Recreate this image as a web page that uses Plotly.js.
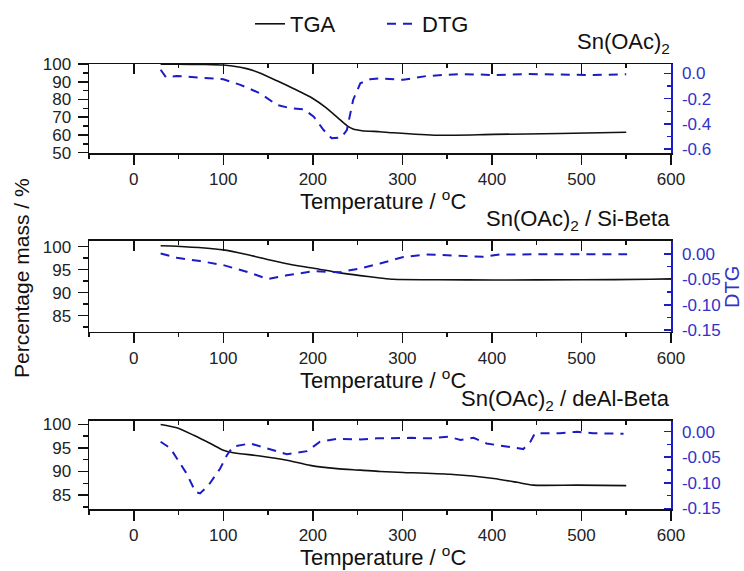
<!DOCTYPE html>
<html>
<head>
<meta charset="utf-8">
<script src="https://cdn.plot.ly/plotly-3.0.1.min.js"></script>
<style>html,body{margin:0;padding:0;background:#fff;}#chart{width:744px;height:571px;}</style>
</head>
<body>
<div id="chart"></div>
<script>
// ---- Data ----
const panelTitles = ['Sn(OAc)<sub>2</sub>', 'Sn(OAc)<sub>2</sub> / Si-Beta', 'Sn(OAc)<sub>2</sub> / deAl-Beta'];
const xTitle = 'Temperature / <sup>o</sup>C';

const p1TgaT = [30, 48, 80, 100, 110, 126, 140, 160, 180, 200, 215, 228, 238, 245, 255, 275, 290, 339, 402, 476, 550];
const p1Tga  = [100, 100, 99.8, 99.5, 99.0, 97.5, 95.2, 90.6, 85.8, 80.6, 75.3, 69.6, 65.3, 63.3, 62.4, 61.8, 61.2, 59.8, 60.3, 60.8, 61.5];
const p1DtgT = [30, 36, 48, 85, 100, 119, 141, 160, 175, 190, 201, 212, 221, 232, 238, 245, 253, 264, 275, 301, 327, 365, 402, 439, 476, 513, 550];
const p1Dtg  = [0.03, -0.03, -0.02, -0.038, -0.046, -0.09, -0.157, -0.25, -0.276, -0.285, -0.343, -0.449, -0.515, -0.507, -0.449, -0.21, -0.078, -0.046, -0.038, -0.05, -0.02, -0.004, -0.012, -0.004, -0.006, -0.012, -0.006];

const p2TgaT = [30, 48, 100, 126, 152, 178, 201, 227, 253, 275, 290, 340, 402, 500, 577, 600];
const p2Tga  = [100.2, 100.1, 99.3, 98.3, 97.1, 96.0, 95.3, 94.4, 93.7, 93.2, 92.9, 92.8, 92.75, 92.8, 92.9, 93.0];
const p2DtgT = [30, 48, 74, 100, 126, 150, 171, 201, 230, 253, 275, 301, 327, 365, 390, 409, 457, 495, 551];
const p2Dtg  = [0.001, -0.0075, -0.014, -0.022, -0.035, -0.0495, -0.042, -0.034, -0.036, -0.0285, -0.019, -0.006, -0.001, -0.0036, -0.0056, -0.001, -0.001, 0.0, -0.0005];

const p3TgaT = [30, 48, 67, 85, 100, 111, 141, 171, 197, 227, 253, 275, 301, 353, 402, 428, 446, 495, 550];
const p3Tga  = [100, 99.3, 97.7, 96.0, 94.5, 94.0, 93.3, 92.4, 91.3, 90.6, 90.3, 90.0, 89.8, 89.4, 88.5, 87.7, 87.1, 87.1, 87.0];
const p3DtgT = [30, 41, 48, 59, 69, 74, 83.5, 96.5, 104, 111, 130, 149, 171, 193.5, 208, 227, 253, 272, 290, 309, 331, 351.5, 365, 379.5, 394, 417, 435, 443, 448, 476, 495, 513, 547];
const p3Dtg  = [-0.0196, -0.0326, -0.052, -0.082, -0.118, -0.121, -0.105, -0.072, -0.046, -0.029, -0.023, -0.033, -0.044, -0.038, -0.0196, -0.014, -0.015, -0.013, -0.012, -0.012, -0.013, -0.0098, -0.016, -0.012, -0.023, -0.029, -0.034, -0.0196, -0.003, -0.003, 0, -0.003, -0.004];

const xTickVals = [0, 100, 200, 300, 400, 500, 600];
const p1LeftTicks = [50, 60, 70, 80, 90, 100];
const p23LeftTicks = [85, 90, 95, 100];
const p1RightVals = [0.0, -0.2, -0.4, -0.6];
const p1RightText = ['0.0', '-0.2', '-0.4', '-0.6'];
const p23RightVals = [0.0, -0.05, -0.10, -0.15];
const p23RightText = ['0.00', '-0.05', '-0.10', '-0.15'];

// ---- Styling ----
const FONT = 'Liberation Sans, Arial, sans-serif';
const BLUE = '#1c1cc4';
const BLUE_TXT = '#3232c8';
const BLACK = '#111111';

const tga = (x, y, xa, ya, show) => ({x, y, xaxis: xa, yaxis: ya, type: 'scatter', mode: 'lines', name: 'TGA',
  line: {color: BLACK, width: 1.6, shape: 'spline', smoothing: 0.6}, showlegend: show, legendrank: 1});
const dtg = (x, y, xa, ya, show) => ({x, y, xaxis: xa, yaxis: ya, type: 'scatter', mode: 'lines', name: 'DTG',
  line: {color: BLUE, width: 2, dash: '9px,7px'}, showlegend: show, legendrank: 2});

const data = [
  tga(p1TgaT, p1Tga, 'x', 'y', true),
  dtg(p1DtgT, p1Dtg, 'x', 'y2', true),
  tga(p2TgaT, p2Tga, 'x2', 'y3', false),
  dtg(p2DtgT, p2Dtg, 'x2', 'y4', false),
  tga(p3TgaT, p3Tga, 'x3', 'y5', false),
  dtg(p3DtgT, p3Dtg, 'x3', 'y6', false),
  // empty traces so the top (mirror) axes are drawn
  {x: [], y: [], xaxis: 'x4', yaxis: 'y', showlegend: false},
  {x: [], y: [], xaxis: 'x5', yaxis: 'y3', showlegend: false},
  {x: [], y: [], xaxis: 'x6', yaxis: 'y5', showlegend: false}
];

const H = 571;
const panelTop = [64, 240.7, 420.7];
const panelBot = [153.3, 331.7, 509.3];
const dom = (top, bot) => [1 - bot / H, 1 - top / H];

const xBottom = (anchor) => ({
  anchor, range: [-50, 600], tickmode: 'array', tickvals: xTickVals,
  ticks: 'outside', ticklen: 10, tickwidth: 1.5, tickcolor: BLACK,
  minor: {dtick: 50, tick0: 0, ticks: 'outside', ticklen: 4, tickwidth: 1.5, tickcolor: BLACK},
  showline: true, linecolor: BLACK, linewidth: 1.5, showgrid: false, zeroline: false,
  tickfont: {size: 17, color: '#222'}, ticklabelstandoff: 0
});
const xTop = (over, anchor) => ({
  overlaying: over, anchor, side: 'top', range: [-50, 600], tickmode: 'array', tickvals: xTickVals,
  ticks: 'inside', ticklen: 10, tickwidth: 1.5, tickcolor: BLACK,
  minor: {dtick: 50, tick0: 0, ticks: 'inside', ticklen: 4, tickwidth: 1.5, tickcolor: BLACK},
  showline: true, linecolor: BLACK, linewidth: 1.5, showgrid: false, zeroline: false, showticklabels: false
});
const yLeft = (anchor, domain, range, vals, minorDt) => ({
  anchor, domain, range, tickmode: 'array', tickvals: vals,
  ticks: 'outside', ticklen: 10, tickwidth: 1.5, tickcolor: BLACK,
  minor: {dtick: minorDt, ticks: 'outside', ticklen: 5, tickwidth: 1.5, tickcolor: BLACK},
  showline: true, linecolor: BLACK, linewidth: 1.5, showgrid: false, zeroline: false,
  tickfont: {size: 17, color: '#222'}, ticklabelstandoff: 3
});
const yRight = (over, anchor, range, vals, text, minorDt) => ({
  overlaying: over, anchor, side: 'right', range, tickmode: 'array', tickvals: vals, ticktext: text,
  ticks: 'inside', ticklen: 7, tickwidth: 1.5, tickcolor: BLUE,
  minor: {dtick: minorDt, ticks: 'inside', ticklen: 4, tickwidth: 1.5, tickcolor: BLUE},
  showline: true, linecolor: BLUE, linewidth: 1.5, showgrid: false, zeroline: false,
  tickfont: {size: 17, color: BLUE_TXT}, ticklabelstandoff: 6
});

const L = 89, R = 73, PW = 744 - L - R;
const px2x = (px) => (px - L) / PW;
const px2y = (py) => 1 - py / H;

const ann = (text, x, y, opts) => Object.assign({text, xref: 'paper', yref: 'paper', x, y, showarrow: false,
  xanchor: 'center', yanchor: 'middle', font: {size: 22, color: '#111'}}, opts || {});

const annotations = [];
for (let i = 0; i < 3; i++) {
  annotations.push(ann(panelTitles[i], 1.002, px2y(panelTop[i] - 21), {xanchor: 'right'}));
  annotations.push(ann(xTitle, px2x(383), px2y(panelBot[i] + 47)));
}
annotations.push(ann('Percentage mass / %', px2x(21), px2y(278), {textangle: -90, font: {size: 21, color: '#111'}}));
annotations.push(ann('DTG', px2x(732), px2y(287), {textangle: -90, font: {size: 20, color: BLUE_TXT}}));

const layout = {
  width: 744, height: 571,
  margin: {l: L, r: R, t: 0, b: 0},
  paper_bgcolor: '#fff', plot_bgcolor: '#fff',
  font: {family: FONT, color: '#111'},
  showlegend: true,
  legend: {orientation: 'h', x: px2x(250), xanchor: 'left', y: px2y(24), yanchor: 'middle',
    font: {size: 22, color: '#111'}, bgcolor: 'rgba(0,0,0,0)', traceorder: 'normal',
    itemwidth: 30, entrywidth: 87, entrywidthmode: 'pixels'},
  xaxis: xBottom('y'),
  xaxis2: xBottom('y3'),
  xaxis3: xBottom('y5'),
  xaxis4: xTop('x', 'y'),
  xaxis5: xTop('x2', 'y3'),
  xaxis6: xTop('x3', 'y5'),
  yaxis: yLeft('x', dom(panelTop[0], panelBot[0]), [49.6, 100.1], p1LeftTicks, 5),
  yaxis2: yRight('y', 'x', [-0.634, 0.0755], p1RightVals, p1RightText, 0.1),
  yaxis3: yLeft('x2', dom(panelTop[1], panelBot[1]), [81.5, 101.3], p23LeftTicks, 2.5),
  yaxis4: yRight('y3', 'x2', [-0.153, 0.026], p23RightVals, p23RightText, 0.025),
  yaxis5: yLeft('x3', dom(panelTop[2], panelBot[2]), [81.96, 100.8], p23LeftTicks, 2.5),
  yaxis6: yRight('y5', 'x3', [-0.152, 0.0216], p23RightVals, p23RightText, 0.025),
  annotations
};

Plotly.newPlot('chart', data, layout, {displayModeBar: false, staticPlot: true});
</script>
</body>
</html>
